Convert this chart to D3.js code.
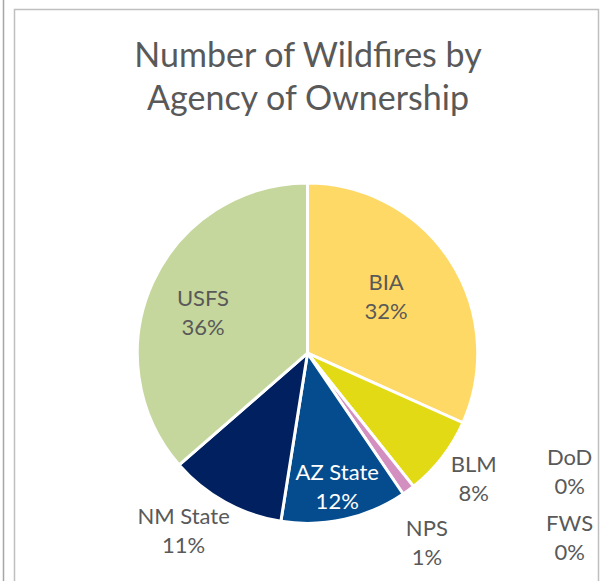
<!DOCTYPE html>
<html>
<head>
<meta charset="utf-8">
<script src="https://cdn.jsdelivr.net/npm/d3@7"></script>
<style>
  body { margin: 0; background: #fff; }
  svg { display: block; font-family: Lato, "Open Sans", sans-serif; }
</style>
</head>
<body>
<svg id="chart"></svg>
<script>
// shares of wildfires by agency (percent)
const agencies = ["BIA", "BLM", "NPS", "AZ State", "NM State", "USFS", "DoD", "FWS"];
const shares = [31.7, 7.6, 1.2, 12.0, 11.1, 36.4, 0, 0];
const colors = ["#ffd966", "#e2da14", "#d48fc1", "#044c8e", "#002060", "#c5d79d", "#a5a5a5", "#70ad47"];
const titleLines = ["Number of Wildfires by", "Agency of Ownership"];

const width = 606;
const height = 581;
const svg = d3.select("#chart").attr("width", width).attr("height", height);

// frame: edge of neighbouring chart + this chart's border
svg.append("line")
    .attr("x1", 3.5).attr("x2", 3.5).attr("y1", 0).attr("y2", height)
    .attr("stroke", "#a6a6a6").attr("stroke-width", 1.5);
svg.append("rect")
    .attr("x", 14.5).attr("y", 9.5).attr("width", 584).attr("height", height + 20)
    .attr("fill", "none").attr("stroke", "#bfbfbf").attr("stroke-width", 1.5);

svg.append("text")
    .attr("x", 308).attr("y", 67)
    .attr("text-anchor", "middle")
    .attr("fill", "#595959")
    .style("font-size", "34px")
    .selectAll("tspan")
    .data(titleLines)
    .join("tspan")
    .attr("x", 308)
    .attr("dy", (d, i) => i ? 43 : 0)
    .text(d => d);

const cx = 307.5, cy = 353.2, r = 170.2;
const g = svg.append("g").attr("transform", `translate(${cx},${cy})`);

const data = agencies.map((name, i) => ({ name, value: shares[i], color: colors[i] }));
const total = d3.sum(shares);

const pie = d3.pie().sort(null).value(d => d.value);
const arc = d3.arc().innerRadius(0).outerRadius(r);
const arcs = pie(data);

g.selectAll("path")
    .data(arcs.filter(d => d.data.value > 0))
    .join("path")
    .attr("d", arc)
    .attr("fill", d => d.data.color)
    .attr("stroke", "#fff")
    .attr("stroke-width", 3)
    .attr("stroke-linejoin", "round");

// label placement: radius as a fraction of r, plus a small angle nudge (degrees)
const labelLayout = {
    "BIA": [0.57, -3],
    "BLM": [1.22, -1],
    "NPS": [1.31, 4],
    "AZ State": [0.80, 0],
    "NM State": [1.27, 6],
    "USFS": [0.66, -3]
};
const pct = d3.format(".0%");

function labelPos(d) {
    const lay = labelLayout[d.data.name];
    if (lay) {
        const a = (d.startAngle + d.endAngle) / 2 + lay[1] * Math.PI / 180;
        const rr = r * lay[0];
        return [Math.sin(a) * rr, -Math.cos(a) * rr];
    }
    // zero-share slices are stacked in a column to the right of the pie
    const k = arcs.filter(e => !labelLayout[e.data.name]).indexOf(d);
    return [r * 1.54, r * 0.69 + k * 66];
}

const labels = g.selectAll("text.label")
    .data(arcs)
    .join("text")
    .attr("class", "label")
    .attr("text-anchor", "middle")
    .attr("fill", d => d.data.name === "AZ State" ? "#fff" : "#595959")
    .style("font-size", "22px")
    .attr("transform", d => `translate(${labelPos(d)})`);

labels.append("tspan").attr("x", 0).attr("y", -6).text(d => d.data.name);
labels.append("tspan").attr("x", 0).attr("y", 23).text(d => pct(d.data.value / total));
</script>
</body>
</html>
